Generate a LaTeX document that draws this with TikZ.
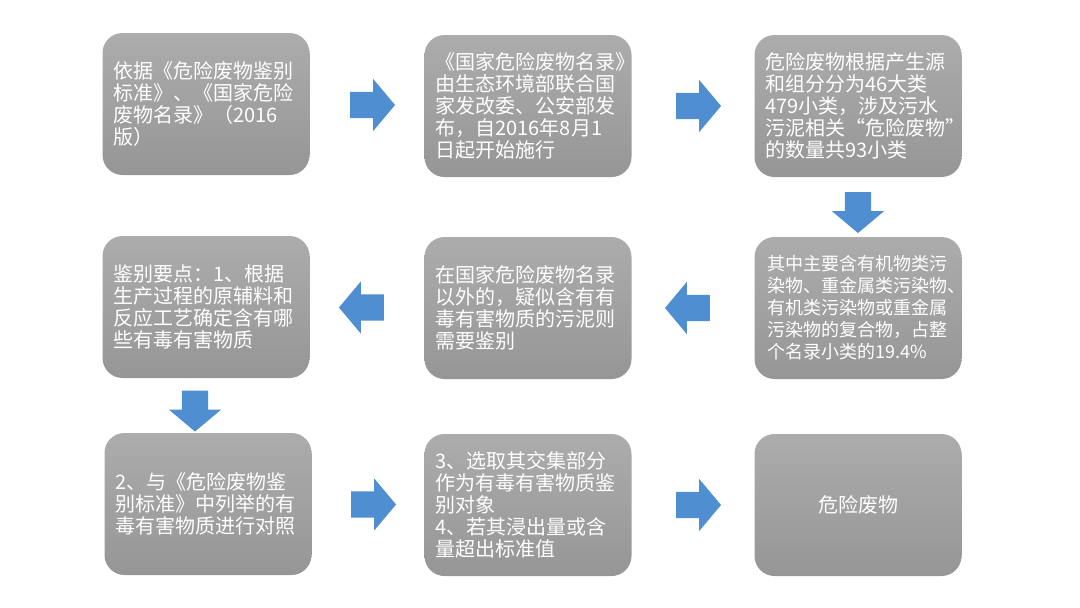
\documentclass[tikz,border=0pt]{standalone}
\usepackage{fontspec}
\newfontfamily\cjk{Noto Sans CJK SC}
\usepackage{tikz}
\usetikzlibrary{shapes.arrows,calc}
\definecolor{arrblue}{RGB}{79,142,208}
\definecolor{boxtop}{RGB}{172,172,172}
\definecolor{boxbot}{RGB}{150,150,150}

\begin{document}
\begin{tikzpicture}[x=1pt,y=-1pt,
  box/.style={rounded corners=20pt, top color=boxtop, bottom color=boxbot,
    minimum width=207pt, minimum height=142pt, text=white,
    font=\cjk\fontsize{20}{22}\selectfont, align=left,
    text width=185pt, inner xsep=11pt, inner ysep=0pt},
  blockarr/.style={single arrow, fill=arrblue, draw=none,
    inner xsep=0pt, inner ysep=13pt,
    minimum width=52pt, single arrow head extend=13pt,
    single arrow tip angle=100, minimum height=45pt}]
  \useasboundingbox (0,0) rectangle (1080,608);

  % first row
  \node[box] (b1) at (206,104) {依据《危险废物鉴别\\标准》、《国家危险\\废物名录》（2016\\版）};
  \node[box] (b2) at (528,106) {《国家危险废物名录》\\由生态环境部联合国\\家发改委、公安部发\\布，自2016年8月1\\日起开始施行};
  \node[box] (b3) at (858,106) {危险废物根据产生源\\和组分分为46大类\\479小类，涉及污水\\污泥相关“危险废物”\\的数量共93小类};

  % second row
  \node[box] (b4) at (206,307) {鉴别要点：1、根据\\生产过程的原辅料和\\反应工艺确定含有哪\\些有毒有害物质};
  \node[box] (b5) at (528,308) {在国家危险废物名录\\以外的，疑似含有有\\毒有害物质的污泥则\\需要鉴别};
  \node[box, font=\cjk\fontsize{18}{22}\selectfont, text width=181pt, inner xsep=13pt]
    (b6) at (858,308) {其中主要含有机物类污\\染物、重金属类污染物、\\有机类污染物或重金属\\污染物的复合物，占整\\个名录小类的19.4\%};

  % third row
  \node[box] (b7) at (208,504) {2、与《危险废物鉴\\别标准》中列举的有\\毒有害物质进行对照};
  \node[box] (b8) at (528,505) {3、选取其交集部分\\作为有毒有害物质鉴\\别对象\\4、若其浸出量或含\\量超出标准值};
  \node[box, align=center] (b9) at (858,505) {危险废物};

  % block arrows
  \foreach \a/\b/\r in {b1/b2/0, b2/b3/0, b6/b5/180, b5/b4/180, b7/b8/0, b8/b9/0} {
    \node[blockarr, rotate=\r] (\a\b) at ($(\a)!0.5!(\b)$) {};
  }
  \node[blockarr, rotate=-90, minimum height=41pt] (b3b6) at ($(b3)!0.5!(b6)$) {};
  \node[blockarr, rotate=-90, minimum height=41pt] (b4b7) at ($(b4)!0.5!(b7)+(-12,0)$) {};
\end{tikzpicture}
\end{document}
